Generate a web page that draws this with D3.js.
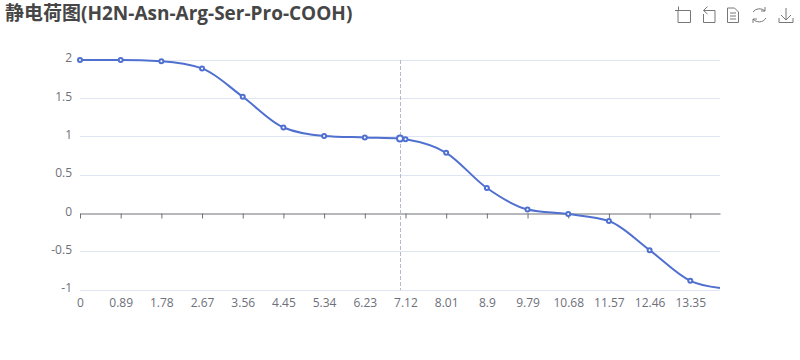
<!DOCTYPE html>
<html>
<head>
<meta charset="utf-8">
<script src="https://cdn.jsdelivr.net/npm/d3@7"></script>
<style>
  html, body { margin: 0; padding: 0; background: #fff; }
  svg { display: block; }
  text { font-family: "Open Sans", "Noto Sans CJK SC", sans-serif; }
</style>
</head>
<body>
<div id="chart-area"></div>
<script>
const MARGIN = { LEFT: 80, RIGHT: 80, TOP: 60, BOTTOM: 70 }
const WIDTH = 800 - MARGIN.LEFT - MARGIN.RIGHT
const HEIGHT = 360 - MARGIN.TOP - MARGIN.BOTTOM

const titleText = '静电荷图(H2N-Asn-Arg-Ser-Pro-COOH)'

// values
const phValues = [0, 0.89, 1.78, 2.67, 3.56, 4.45, 5.34, 6.23, 7, 7.12, 8.01, 8.9, 9.79, 10.68, 11.57, 12.46, 13.35, 14]
const chargeValues = [2, 2, 1.985, 1.89, 1.52, 1.12, 1.01, 0.99, 0.975, 0.965, 0.79, 0.33, 0.05, -0.01, -0.1, -0.48, -0.88, -0.975]
const markerPh = [0, 0.89, 1.78, 2.67, 3.56, 4.45, 5.34, 6.23, 7.12, 8.01, 8.9, 9.79, 10.68, 11.57, 12.46, 13.35]
const xTicks = [0, 0.89, 1.78, 2.67, 3.56, 4.45, 5.34, 6.23, 7.12, 8.01, 8.9, 9.79, 10.68, 11.57, 12.46, 13.35]
const yTicks = [-1, -0.5, 0, 0.5, 1, 1.5, 2]
const hoverPh = 7

const BLUE = '#5070d0'
const LABEL = '#6e7079'

const points = phValues.map((ph, i) => ({ ph: ph, charge: chargeValues[i] }))

const svg = d3.select('#chart-area').append('svg')
  .attr('width', 800)
  .attr('height', 360)

// title
svg.append('text')
  .attr('x', 5)
  .attr('y', 20)
  .attr('font-size', '19px')
  .attr('font-weight', 'bold')
  .attr('fill', '#464646')
  .text(titleText)

const g = svg.append('g')
  .attr('transform', `translate(${MARGIN.LEFT}, ${MARGIN.TOP})`)

const x = d3.scaleLinear().domain([0, 14]).range([0, WIDTH])
const y = d3.scaleLinear().domain([-1, 2]).range([HEIGHT, 0])

// grid lines
g.append('g').selectAll('line')
  .data(yTicks.filter(d => d !== 0))
  .enter().append('line')
  .attr('x1', 0)
  .attr('x2', WIDTH)
  .attr('y1', d => Math.floor(y(d)) + 0.5)
  .attr('y2', d => Math.floor(y(d)) + 0.5)
  .attr('stroke', '#e0e6f1')

// y axis, labels only
const yAxisCall = d3.axisLeft(y)
  .tickValues(yTicks)
  .tickFormat(d => d)
  .tickSize(0)
  .tickPadding(8)
const yAxis = g.append('g').call(yAxisCall)
yAxis.select('.domain').remove()
yAxis.selectAll('text')
  .attr('fill', LABEL)
  .attr('font-size', '12px')
  .attr('dy', '0.15em')

// x axis sits on zero, labels go to the bottom of the grid
const xAxisCall = d3.axisBottom(x)
  .tickValues(xTicks)
  .tickFormat(d => d)
  .tickSize(5)
  .tickSizeOuter(0)
const xAxis = g.append('g')
  .attr('transform', `translate(0, ${Math.floor(y(0)) + 0.5})`)
  .call(xAxisCall)
xAxis.select('.domain').attr('stroke', LABEL)
xAxis.selectAll('line').attr('stroke', LABEL)
xAxis.selectAll('text')
  .attr('fill', LABEL)
  .attr('font-size', '12px')
  .attr('y', HEIGHT - y(0) + 8)
  .attr('dy', '0.75em')

// crosshair
g.append('line')
  .attr('x1', x(hoverPh) + 0.5)
  .attr('x2', x(hoverPh) + 0.5)
  .attr('y1', 0)
  .attr('y2', HEIGHT)
  .attr('stroke', '#b6b9c8')
  .attr('stroke-dasharray', '4,2')

// line
const line = d3.line()
  .x(d => x(d.ph))
  .y(d => y(d.charge))
  .curve(d3.curveMonotoneX)
g.append('path')
  .datum(points)
  .attr('fill', 'none')
  .attr('stroke', BLUE)
  .attr('stroke-width', 2)
  .attr('d', line)

// markers
g.append('g').selectAll('circle')
  .data(points.filter(d => markerPh.includes(d.ph)))
  .enter().append('circle')
  .attr('cx', d => x(d.ph))
  .attr('cy', d => y(d.charge))
  .attr('r', 2)
  .attr('fill', '#fff')
  .attr('stroke', BLUE)
  .attr('stroke-width', 2)

// hovered point
g.append('circle')
  .datum(points.find(d => d.ph === hoverPh))
  .attr('cx', d => x(d.ph))
  .attr('cy', d => y(d.charge))
  .attr('r', 3)
  .attr('fill', '#fff')
  .attr('stroke', BLUE)
  .attr('stroke-width', 2)

// toolbox icons
const iconPaths = [
  'M678 10.5H690.5V22.5H678Z M678.5 6.5V10.5 M678 10.5H675',
  'M703.5 10.5H715V22.5H703.5V14 M703.5 10.5L707.5 6.5 M703.5 10.5L707.5 14',
  'M727.5 8H734.5L738.5 12V22.5H727.5Z M730 13H736 M730 16H736 M730 19H736',
  'M753 12A8 8 0 0 1 765 11 M766 18A8 8 0 0 1 753 19 M765 7V11H761 M753 23V19H757',
  'M786 8V20 M781 15L786 20L791 15 M779 18V22.5H793V18'
]
svg.append('g').selectAll('path')
  .data(iconPaths)
  .enter().append('path')
  .attr('d', d => d)
  .attr('fill', 'none')
  .attr('stroke', '#777')
  .attr('stroke-width', 1)
</script>
</body>
</html>
